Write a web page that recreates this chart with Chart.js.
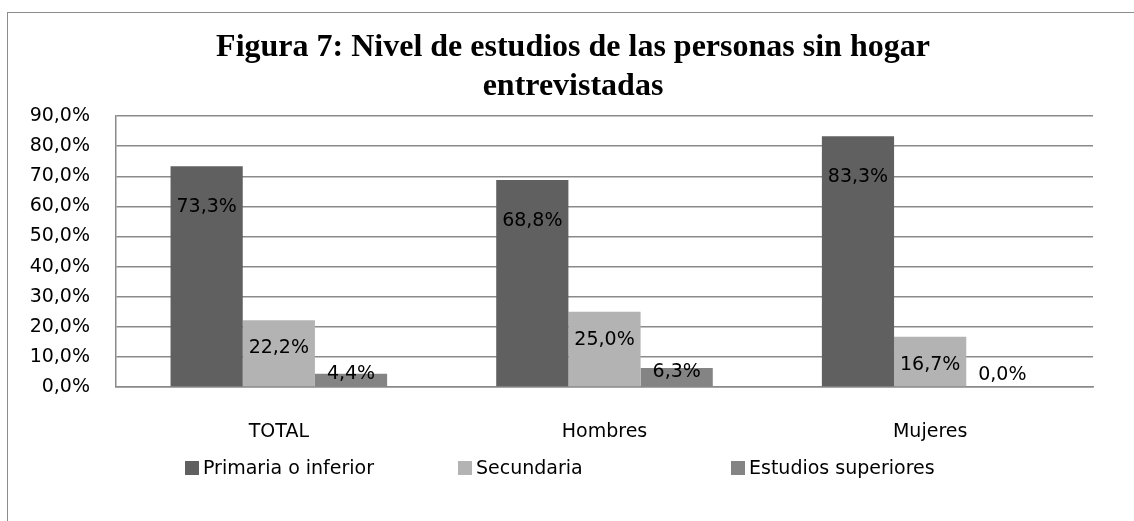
<!DOCTYPE html>
<html>
<head>
<meta charset="utf-8">
<script src="https://cdn.jsdelivr.net/npm/chart.js@4.4.1/dist/chart.umd.min.js"></script>
<style>
html, body { margin: 0; padding: 0; background: #ffffff; }
#wrap { position: relative; width: 1134px; height: 521px; overflow: hidden; background: #ffffff; }
#frame { position: absolute; left: 7px; top: 12px; width: 1300px; height: 700px;
         border-left: 1.5px solid #8c8c8c; border-top: 1.5px solid #8c8c8c; }
canvas { position: absolute; left: 0; top: 0; }
</style>
</head>
<body>
<div id="wrap">
  <div id="frame"></div>
  <canvas id="c" width="1134" height="521"></canvas>
</div>
<script>
// ---- data ----
const categories = ['TOTAL', 'Hombres', 'Mujeres'];
const seriesNames = ['Primaria o inferior', 'Secundaria', 'Estudios superiores'];
const primaria = [73.3, 68.8, 83.3];
const secundaria = [22.2, 25.0, 16.7];
const superiores = [4.4, 6.3, 0.0];
const yTickLabels = ['0,0%', '10,0%', '20,0%', '30,0%', '40,0%', '50,0%', '60,0%', '70,0%', '80,0%', '90,0%'];
const titleLines = ['Figura 7: Nivel de estudios de las personas sin hogar', 'entrevistadas'];

// ---- styles ----
const seriesColors = ['#606060', '#b3b3b3', '#848484'];
const labelFont = '19px "DejaVu Sans"';
const gridColor = '#8a8a8a';

function fmt(v) { return v.toFixed(1).replace('.', ',') + '%'; }

const barLabels = {
  id: 'barLabels',
  afterDatasetsDraw(chart, args, opts) {
    const ctx = chart.ctx;
    ctx.save();
    ctx.font = labelFont;
    ctx.fillStyle = '#000';
    ctx.textAlign = 'center';
    ctx.textBaseline = 'middle';
    chart.data.datasets.forEach((ds, di) => {
      const meta = chart.getDatasetMeta(di);
      meta.data.forEach((el, i) => {
        const off = opts.offsets[di];
        const y = Math.min(el.y + off, el.base - opts.clamp);
        ctx.fillText(fmt(ds.data[i]), el.x, y);
      });
    });
    ctx.restore();
  }
};

const slotLegend = {
  id: 'slotLegend',
  afterDraw(chart, args, opts) {
    const ctx = chart.ctx;
    ctx.save();
    ctx.font = labelFont;
    ctx.textAlign = 'left';
    ctx.textBaseline = 'middle';
    const x0 = chart.chartArea.left + opts.startOffset;
    chart.data.datasets.forEach((ds, di) => {
      const x = x0 + di * opts.slot;
      ctx.fillStyle = ds.backgroundColor;
      ctx.fillRect(x, opts.y - opts.box / 2, opts.box, opts.box);
      ctx.fillStyle = '#000';
      ctx.fillText(ds.label, x + opts.box + 4, opts.y + 1);
    });
    ctx.restore();
  }
};

new Chart(document.getElementById('c'), {
  type: 'bar',
  data: {
    labels: categories,
    datasets: [
      { label: seriesNames[0], data: primaria, backgroundColor: seriesColors[0] },
      { label: seriesNames[1], data: secundaria, backgroundColor: seriesColors[1] },
      { label: seriesNames[2], data: superiores, backgroundColor: seriesColors[2] }
    ]
  },
  options: {
    responsive: false,
    animation: false,
    devicePixelRatio: 1,
    layout: { padding: { left: 26, right: 14, top: 8, bottom: 74 } },
    datasets: { bar: { categoryPercentage: 0.665, barPercentage: 1.0 } },
    plugins: {
      legend: { display: false },
      tooltip: { enabled: false },
      title: {
        display: true,
        text: titleLines,
        color: '#000',
        font: { family: '"Liberation Serif"', size: 32, weight: 'bold', lineHeight: 1.22 },
        padding: { top: 20, bottom: 10 }
      },
      barLabels: { offsets: [41, 28, 4], clamp: 12 },
      slotLegend: { y: 468, startOffset: 69, slot: 273, box: 14 }
    },
    scales: {
      x: {
        grid: { display: false, drawTicks: false },
        border: { display: true, color: gridColor, width: 1.5 },
        ticks: { color: '#000', font: { family: '"DejaVu Sans"', size: 19 }, padding: 34 },
        afterFit(s) { s.height = 60; }
      },
      y: {
        min: 0, max: 90,
        grid: { color: gridColor, lineWidth: 1.5, drawTicks: false },
        border: { display: true, color: gridColor, width: 1.5 },
        ticks: {
          stepSize: 10,
          color: '#000',
          font: { family: '"DejaVu Sans"', size: 19 },
          padding: 26,
          callback: (v) => yTickLabels[Math.round(v / 10)]
        },
        afterFit(s) { s.width = 90; }
      },
      yRight: {
        position: 'right',
        display: true,
        grid: { display: false, drawTicks: false },
        border: { display: false },
        ticks: { display: false },
        afterFit(s) { s.width = 27; }
      }
    }
  },
  plugins: [barLabels, slotLegend]
});
</script>
</body>
</html>
